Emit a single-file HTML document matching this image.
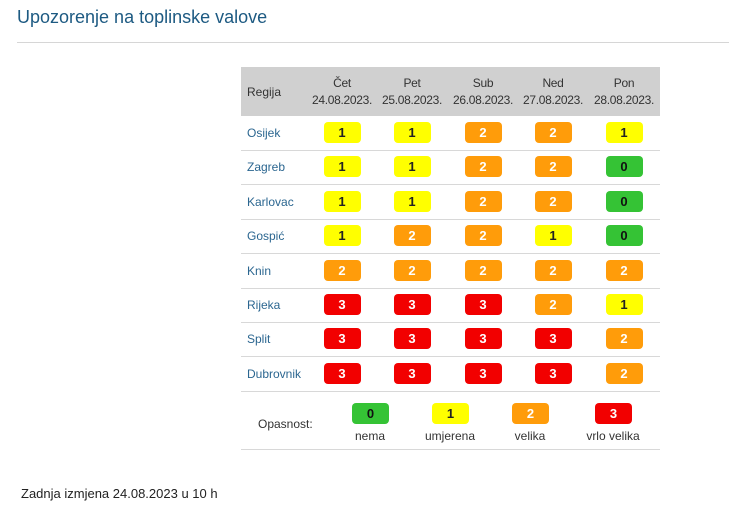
<!DOCTYPE html>
<html><head><meta charset="utf-8"><style>
body{margin:0;width:729px;height:514px;background:#fff;font-family:"Liberation Sans",sans-serif;position:relative;overflow:hidden}
.a{position:absolute}
.t{left:17px;top:7px;font-size:18px;color:#1d5a82;white-space:nowrap}
.hr{left:17px;top:42px;width:712px;height:1px;background:#d6d6d6}
.hd{left:241px;top:67px;width:419px;height:49px;background:#d0d0d0}
.hc{position:absolute;top:8px;width:70px;text-align:center;font-size:12px;color:#333;line-height:17px;letter-spacing:-0.3px}
.rl{position:absolute;left:247px;font-size:12px;color:#2b6690}
.ln{position:absolute;left:241px;width:419px;height:1px;background:#d8d8d8}
.b{position:absolute;width:37px;height:21px;border-radius:4px;text-align:center;line-height:21px;font-size:13px;font-weight:bold}
.c0{background:#35c335;color:#111}.c1{background:#ffff00;color:#222}.c2{background:#ff9c0a;color:#fff}.c3{background:#f20000;color:#fff}
.lg{position:absolute;font-size:12px;color:#333;text-align:center;width:80px}
</style></head><body>
<div class="a t">Upozorenje na toplinske valove</div>
<div class="a hr"></div>
<div class="a hd">
<div style="position:absolute;left:6px;top:18px;font-size:12px;color:#333">Regija</div>
<div class="hc" style="left:66px">Čet<br>24.08.2023.</div>
<div class="hc" style="left:136px">Pet<br>25.08.2023.</div>
<div class="hc" style="left:207px">Sub<br>26.08.2023.</div>
<div class="hc" style="left:277px">Ned<br>27.08.2023.</div>
<div class="hc" style="left:348px">Pon<br>28.08.2023.</div>
</div>
<div id="rows"></div>
<script>
var d=[["Osijek","11221"],["Zagreb","11220"],["Karlovac","11220"],["Gospić","12210"],["Knin","22222"],["Rijeka","33321"],["Split","33332"],["Dubrovnik","33332"]];
var cx=[342,412,483,553,624],h="";
d.forEach(function(r,i){var y=116+i*34.4;
h+='<div class="rl" style="top:'+(y+10)+'px">'+r[0]+'</div>';
for(var j=0;j<5;j++){var v=r[1][j];h+='<div class="b c'+v+'" style="left:'+(cx[j]-18.5)+'px;top:'+(y+6)+'px">'+v+'</div>';}
h+='<div class="ln" style="top:'+(y+34)+'px"></div>';});
document.getElementById("rows").innerHTML=h;
</script>
<div class="a" style="left:258px;top:417px;font-size:12px;color:#333">Opasnost:</div>
<div class="b c0" style="left:352px;top:403px">0</div>
<div class="b c1" style="left:432px;top:403px">1</div>
<div class="b c2" style="left:512px;top:403px">2</div>
<div class="b c3" style="left:595px;top:403px">3</div>
<div class="lg" style="left:330px;top:429px">nema</div>
<div class="lg" style="left:410px;top:429px">umjerena</div>
<div class="lg" style="left:490px;top:429px">velika</div>
<div class="lg" style="left:573px;top:429px">vrlo velika</div>
<div class="ln" style="top:449px"></div>
<div class="a" style="left:21px;top:486px;font-size:13px;color:#222">Zadnja izmjena 24.08.2023 u 10 h</div>
</body></html>
